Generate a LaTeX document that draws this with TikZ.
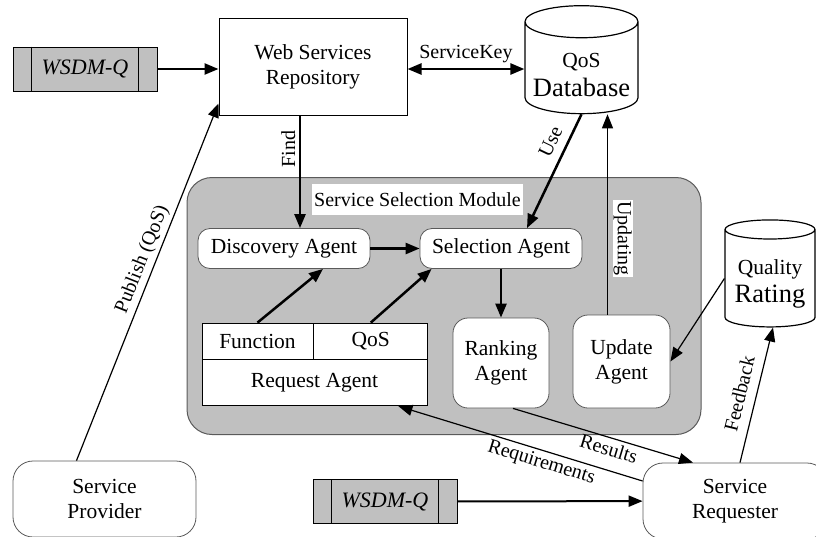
\documentclass[tikz,border=0pt]{standalone}
\usepackage{fontspec}
\setmainfont{Liberation Serif}
\usetikzlibrary{arrows.meta,shapes.geometric}
\definecolor{modgray}{HTML}{C0C0C0}
\definecolor{edgegray}{HTML}{5A5A5A}

\begin{document}
\begin{tikzpicture}[x=1pt,y=-1pt,>={Triangle[length=14pt,width=11pt]},
    every node/.style={font=\fontsize{21.5}{25}\selectfont,align=center},
    box/.style={draw,line width=1pt,fill=white,inner sep=0pt},
    cell/.style={draw,line width=0.8pt,fill=white,inner sep=0pt},
    agent/.style={draw=edgegray,line width=0.8pt,fill=white,rounded corners=12pt,inner sep=0pt},
    wsdm/.style={draw,line width=1pt,fill=modgray,minimum width=144,minimum height=44,
        font=\fontsize{22}{22}\selectfont\itshape},
    db/.style={draw,line width=1.2pt,fill=white,cylinder,shape border rotate=90,inner sep=0pt},
    heavy/.style={->,line width=2.5pt},
    light/.style={->,line width=1.2pt},
    lbl/.style={font=\fontsize{20}{20}\selectfont}]
\useasboundingbox (0,0) rectangle (816,536);

% the module
\node[draw=edgegray,line width=1pt,fill=modgray,rounded corners=25pt,
      minimum width=514,minimum height=257] (ssm) at (444,306) {};
\node[fill=white,inner sep=2pt,minimum height=31,lbl] (ssmlabel) at (417.5,199.5) {Service Selection Module};

% outside
\node[wsdm] (wsdm1) at (85,69) {WSDM-Q};
\node[box,minimum width=188,minimum height=97] (wsr) at (313,66.5) {Web Services\\Repository};
\node[db,aspect=0.33,minimum width=113,minimum height=108] (qosdb) at (581.5,68)
    {\rule{0pt}{28pt}QoS\\[4pt]{\fontsize{26.5}{26}\selectfont Database}};
\node[db,aspect=0.27,minimum width=90,minimum height=107] (qr) at (770,278.5)
    {\rule{0pt}{26pt}Quality\\[3pt]{\fontsize{26.5}{26}\selectfont Rating}};
\node[agent,rounded corners=20pt,minimum width=183,minimum height=76] (sp) at (104.5,499) {Service\\Provider};
\node[agent,rounded corners=20pt,minimum width=184,minimum height=76] (sreq) at (735,501) {Service\\Requester};
\node[wsdm] (wsdm2) at (385,501.5) {WSDM-Q};

% inside
\node[agent,minimum width=172,minimum height=40] (disc) at (284,248.5) {Discovery Agent};
\node[agent,minimum width=162,minimum height=40] (sel) at (501,248.5) {Selection Agent};
\node[cell,minimum width=111,minimum height=36] (func) at (257.5,341) {Function};
\node[cell,minimum width=114,minimum height=36,anchor=west] (qosreq) at (func.east) {QoS};
\node[cell,minimum width=225,minimum height=46,anchor=north west] (reqag) at (func.south west) {Request Agent};
\node[agent,rounded corners=15pt,minimum width=96,minimum height=90] (rank) at (501,363) {Ranking\\Agent};
\node[agent,rounded corners=15pt,minimum width=97,minimum height=93] (upd) at (621.5,361.5) {Update\\Agent};

% wsdm separators
\foreach \w in {wsdm1,wsdm2} {
  \draw[line width=1pt] ([xshift=19]\w.north west) -- ([xshift=19]\w.south west);
  \draw[line width=1pt] ([xshift=-19]\w.north east) -- ([xshift=-19]\w.south east);
}

\draw[heavy] (wsdm1) -- (wsdm1 -| wsr.west);
\draw[heavy,<->] (wsr.east |- 0,69) -- node[above,lbl,yshift=2] {ServiceKey} (qosdb.west |- 0,69);
\draw[heavy] ([xshift=-13]wsr.south) -- node[pos=0.3,rotate=90,anchor=south,lbl] {Find}
    ([xshift=-13]wsr.south |- disc.north);
\draw[heavy] (qosdb.south) -- node[pos=0.3,sloped,above=5pt,lbl] {Use} ([xshift=26]sel.north);
\draw[light] ([xshift=-14]upd.north) -- node[pos=0.38,rotate=-90,anchor=south,fill=white,
    inner sep=1pt,outer sep=5pt,lbl] {Updating} ([xshift=-14]upd.north |- qosdb.south);

\path (disc) edge[heavy] (sel)
      (func.north) edge[heavy] ([xshift=39]disc.south)
      (qosreq.north) edge[heavy] ([xshift=12]sel.south west)
      (sel.south) edge[heavy] (rank.north)
      (qr.west) edge[light] (upd.east);

\draw[light] ([xshift=-28]sp.north) -- node[pos=0.55,sloped,above,lbl] {Publish (QoS)} ([yshift=12]wsr.south west);
\draw[light] ([xshift=12]rank.south) -- node[pos=0.55,sloped,below,lbl] {Results} ([xshift=-42]sreq.north);
\draw[light] ([yshift=20]sreq.west) -- node[pos=0.4,sloped,below,lbl] {Requirements} ([xshift=-29]reqag.south east);
\draw[light] ([xshift=5]sreq.north) -- node[pos=0.48,sloped,above=6pt,lbl] {Feedback} ([xshift=3]qr.south);
\draw[heavy,line width=2pt] (wsdm2) -- (sreq);
\end{tikzpicture}
\end{document}
